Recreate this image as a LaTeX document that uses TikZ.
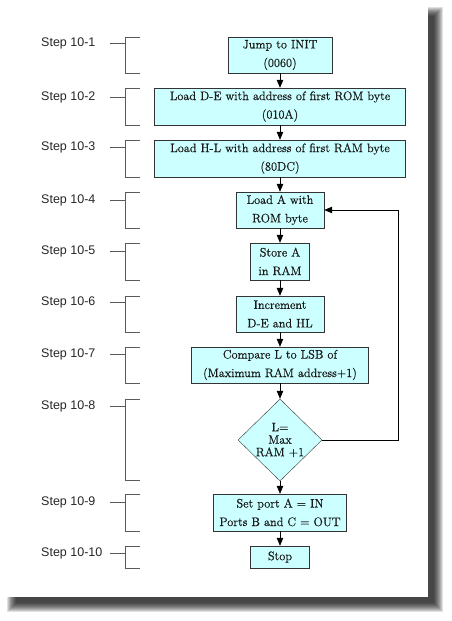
\documentclass[tikz,border=0pt]{standalone}
\usepackage{fontspec}
\newfontfamily\stepfont{Liberation Sans}
\newfontfamily\boxfont{Latin Modern Roman}[FakeBold=0.6]
\usetikzlibrary{shapes.geometric,arrows.meta}
\definecolor{boxfill}{HTML}{CCFFFF}
\definecolor{boxline}{HTML}{333333}
\definecolor{brack}{HTML}{5A5A5A}

\begin{document}
\begin{tikzpicture}[x=1pt,y=-1pt]
  \tikzset{stepbox/.style={draw=boxline,fill=boxfill,align=center,inner sep=0pt,
      text=black!90,font=\boxfont\fontsize{12.3}{18.5}\selectfont}}
  \tikzset{decide/.style={diamond,draw=boxline,fill=boxfill,inner sep=0pt,
      minimum width=84pt,minimum height=82pt}}
  \tikzset{steplabel/.style={anchor=west,inner sep=0pt,text=black!85,
      font=\stepfont\fontsize{12.5}{14}\selectfont}}
  \tikzset{arr/.style={-{Triangle[length=8pt,width=6.5pt]},black,line width=0.7pt}}
  \useasboundingbox (0,0) rectangle (451,621);
  % page and its shadow
  \foreach \r in {0,...,9}
    \fill[black,opacity=0.12] (16-\r,16-\r) rectangle (434+\r,603+\r);
  \fill[white] (7,7) rectangle (428,597);
  % steps on the left
  \node[steplabel] (l1) at (41,43.5) {Step 10-1};
  \node[steplabel] (l2) at (41,97) {Step 10-2};
  \node[steplabel] (l3) at (41,147) {Step 10-3};
  \node[steplabel] (l4) at (41,200) {Step 10-4};
  \node[steplabel] (l5) at (41,251) {Step 10-5};
  \node[steplabel] (l6) at (41,302) {Step 10-6};
  \node[steplabel] (l7) at (41,354) {Step 10-7};
  \node[steplabel] (l8) at (41,406) {Step 10-8};
  \node[steplabel] (l9) at (41,502) {Step 10-9};
  \node[steplabel] (l10) at (41,553) {Step 10-10};
  \foreach \y/\a/\b in {43.5/37/73,97/88/125,147/140/177,200/192/228,251/243/280,
      302/296/332,354/347/383,406/399/480,502/494/531,553/546/568}
    \draw[brack,line width=0.8pt] (110,\y) -- (125,\y) (140,\a) -- (125,\a) -- (125,\b) -- (140,\b);
  % flow chart
  \node[stepbox,minimum width=104pt,minimum height=36pt] (s1) at (280,55) {Jump to INIT\\(0060)};
  \node[stepbox,minimum width=251pt,minimum height=37pt] (s2) at (280,106.5) {Load D-E with address of first ROM byte\\(010A)};
  \node[stepbox,minimum width=251pt,minimum height=37pt] (s3) at (280,158.5) {Load H-L with address of first RAM byte\\(80DC)};
  \node[stepbox,minimum width=88pt,minimum height=36pt] (s4) at (280,210) {Load A with\\ROM byte};
  \node[stepbox,minimum width=59pt,minimum height=37pt] (s5) at (280,261.5) {Store A\\in RAM};
  \node[stepbox,minimum width=88pt,minimum height=36pt] (s6) at (280,314) {Increment\\D-E and HL};
  \node[stepbox,minimum width=177pt,minimum height=36pt] (s7) at (280,365) {Compare L to LSB of\\(Maximum RAM address+1)};
  \node[decide,label={[align=center,text=black!90,font=\boxfont\fontsize{12.3}{12.5}\selectfont]center:L=\\Max\\RAM +1}] (s8) at (280,440) {};
  \node[stepbox,minimum width=133pt,minimum height=37pt] (s9) at (280,512.5) {Set port A = IN\\Ports B and C = OUT};
  \node[stepbox,minimum width=59pt,minimum height=22pt] (s10) at (280,557) {Stop};
  \draw[arr] (s1) -- (s2);
  \draw[arr] (s2) -- (s3);
  \draw[arr] (s3) -- (s4);
  \draw[arr] (s4) -- (s5);
  \draw[arr] (s5) -- (s6);
  \draw[arr] (s6) -- (s7);
  \draw[arr] (s7) -- (s8);
  \draw[arr] (s8) -- (s9);
  \draw[arr] (s9) -- (s10);
  \draw[arr] (s8.east) -- ++(76,0) |- (s4.east);
\end{tikzpicture}
\end{document}
